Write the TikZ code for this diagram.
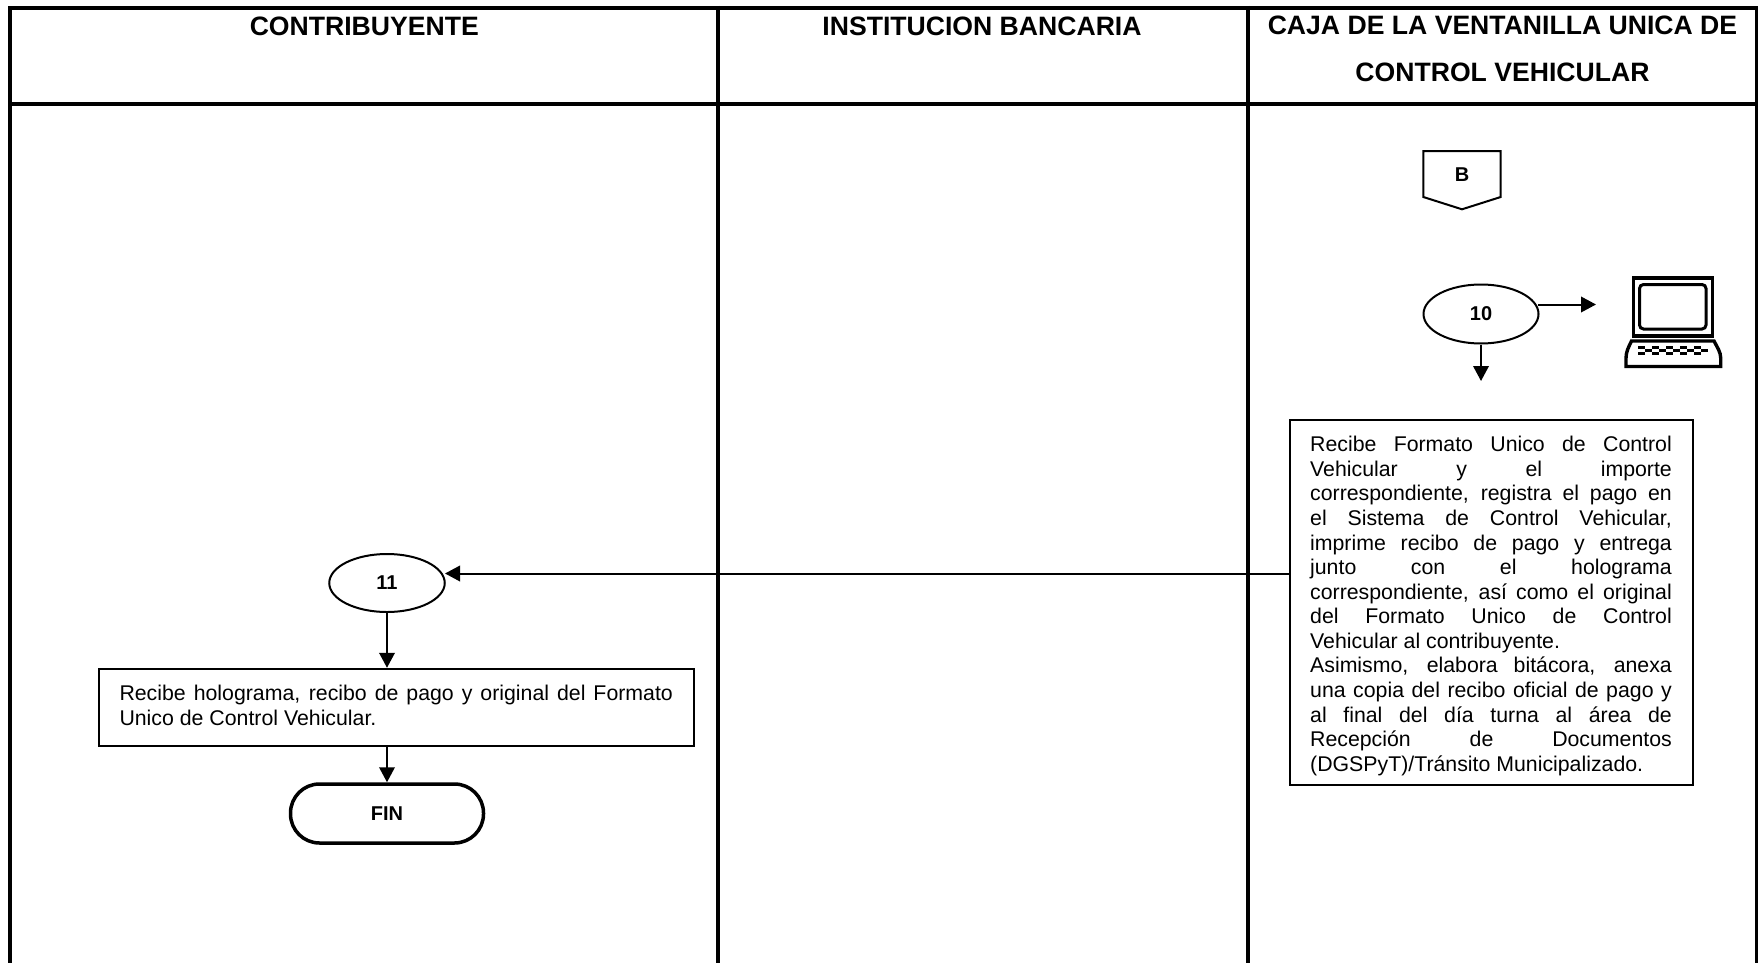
\documentclass[tikz,border=0pt]{standalone}
\usepackage{fontspec}
\setmainfont{Liberation Sans}
\usetikzlibrary{arrows.meta,shapes.geometric}
\tikzset{
  x=1pt,y=-1pt,
  frameline/.style={line width=4pt,line cap=butt},
  thinl/.style={line width=2pt},
  arr/.style={line width=2pt,-{Triangle[length=15pt,width=15.5pt]},shorten <=0pt},
  title/.style={font=\fontsize{26.6}{46.7}\selectfont\bfseries,align=center,inner sep=0pt},
  num/.style={font=\fontsize{20}{24}\selectfont\bfseries,inner sep=0pt},
  oval/.style={ellipse,draw,line width=2pt,inner sep=0pt,minimum width=#1,minimum height=58pt},
  proc/.style={rectangle,draw,line width=2pt,align=justify,font=\fontsize{21.3}{24.56}\selectfont,inner ysep=0pt},
  endbox/.style={rectangle,draw,line width=3.5pt,rounded corners=29pt,inner sep=0pt,minimum width=193pt,minimum height=59pt,font=\fontsize{20}{24}\selectfont\bfseries},
  keyrow/.style={line width=2.4pt,dash pattern=on 7pt off 7pt}
}
\begin{document}
\begin{tikzpicture}
\fill[white] (0,0) rectangle (1758,963);
\useasboundingbox (0,0) rectangle (1758,963);
% frame
\draw[frameline] (10,963) -- (10,7.7) -- (1756.5,7.7) -- (1756.5,963);
\draw[frameline] (8,103.7) -- (1758,103.7);
\draw[frameline] (718,6) -- (718,963);
\draw[frameline] (1248,6) -- (1248,963);
% titles
\node[title,anchor=base] (t1) at (364.3,35.5) {CONTRIBUYENTE};
\node[title,anchor=base] (t2) at (982,35.5) {INSTITUCION BANCARIA};
\node[title,anchor=base] (t3) at (1502.5,81.7) {CAJA DE LA VENTANILLA UNICA DE\\CONTROL VEHICULAR};
% connector B
\node[num] (nb) at (1462,175) {B};
\draw[thinl,line join=miter] (1423.3,151) -- (1500.7,151) -- (1500.7,197) -- (1462,209.3) -- (1423.3,197) -- cycle;
% 10
\node[oval=115pt,minimum height=59pt,num] (n10) at (1481,314) {10};
\coordinate (pc) at (1596,304.5);
\coordinate (d10) at (1481,381);
\coordinate (s10) at (1538,304.5);
\draw[arr] (s10) -- (pc);
\draw[arr] (n10.south) -- (d10);
% computer
\draw[line width=3.6pt] (1633.5,278) rectangle (1712.5,336);
\draw[line width=3pt,rounded corners=4pt] (1639.5,284.5) rectangle (1706,329);
\draw[line width=3.4pt,line join=miter] (1631.5,341) -- (1714,341) .. controls (1717,347) and (1720.7,352) .. (1720.7,358) -- (1720.7,366.5) -- (1626,366.5) -- (1626,358) .. controls (1626,352) and (1628.5,347) .. (1631.5,341) -- cycle;
\draw[keyrow] (1638,347.5) -- (1708,347.5);
\draw[keyrow] (1638,353.5) -- (1708,353.5);
\draw[keyrow,dash phase=7pt] (1638,350.5) -- (1708,350.5);
% main box
\node[proc,text width=361.7pt,inner xsep=20.65pt,minimum height=364.7pt] (cbox) at (1491,602.5) {\hyphenpenalty=10000\tolerance=10000\hbadness=10000
Recibe Formato Unico de Control\linebreak
Vehicular y el importe\linebreak
correspondiente, registra el pago en\linebreak
el Sistema de Control Vehicular,\linebreak
imprime recibo de pago y entrega\linebreak
junto con el holograma\linebreak
correspondiente, así como el original\linebreak
del Formato Unico de Control\linebreak
Vehicular al contribuyente.\par
Asimismo, elabora bitácora, anexa\linebreak
una copia del recibo oficial de pago y\linebreak
al final del día turna al área de\linebreak
Recepción de Documentos\linebreak
(DGSPyT)/Tránsito Municipalizado.\par\kern-7pt};
% 11
\node[oval=115.5pt,num] (n11) at (387,583) {11};
\coordinate (t11) at (445,573.5);
\draw[arr] (cbox.west |- t11) -- (t11);
% receive box
\node[proc,text width=553.4pt,inner xsep=20.9pt,minimum height=77.4pt] (rbox) at (396.2,707.5) {\hyphenpenalty=10000\tolerance=10000\hbadness=10000
Recibe holograma, recibo de pago y original del Formato\linebreak
Unico de Control Vehicular.\par\kern4.4pt};
\draw[arr] (n11.south) -- (n11.south |- rbox.north);
% end
\node[endbox] (fin) at (387,813.5) {FIN};
\draw[arr] (rbox.south -| fin) -- (fin.north);
\end{tikzpicture}
\end{document}
